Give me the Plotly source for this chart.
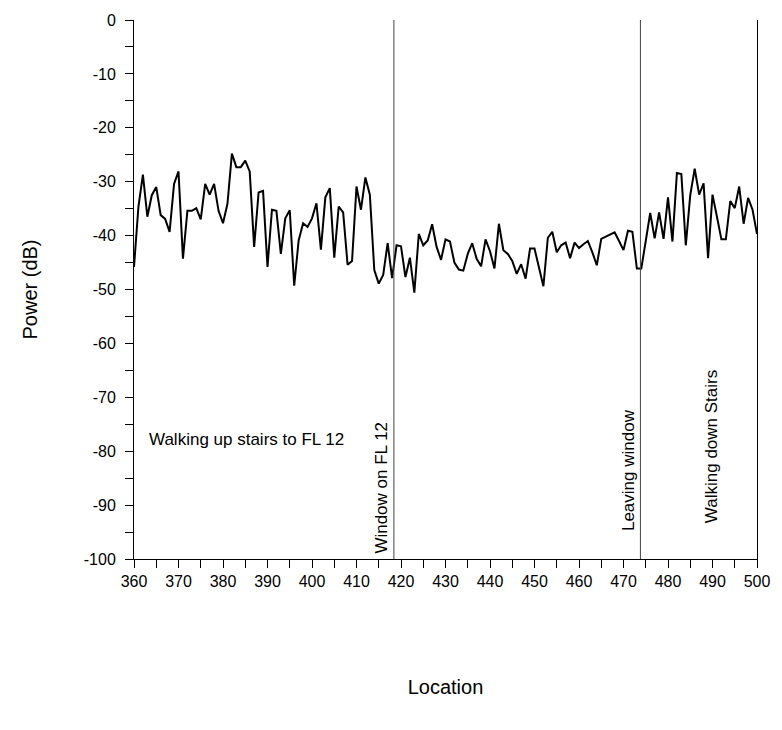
import plotly.graph_objects as go

# Measured received power along the walking route
location = list(range(360, 501))
power_db = [
    -45.8, -34.6, -28.7, -36.5, -32.5, -31.0, -36.2, -36.9, -39.3, -30.4,
    -28.1, -44.3, -35.4, -35.4, -34.9, -37.0, -30.4, -32.4, -30.4, -35.4,
    -37.7, -34.1, -24.8, -27.3, -27.3, -26.1, -28.1, -42.1, -32.0, -31.7,
    -45.8, -35.2, -35.4, -43.4, -36.8, -35.3, -49.3, -40.9, -37.7, -38.4,
    -36.8, -34.0, -42.6, -32.9, -31.2, -44.1, -34.6, -35.7, -45.4, -44.7,
    -30.9, -35.2, -29.2, -32.4, -46.4, -48.9, -47.3, -41.4, -47.9, -41.8,
    -42.0, -47.7, -44.1, -50.6, -39.7, -41.8, -40.9, -37.9, -42.1, -44.5,
    -40.7, -41.1, -45.0, -46.3, -46.5, -43.4, -41.4, -44.3, -45.7, -40.7,
    -42.9, -46.1, -37.8, -42.7, -43.4, -44.7, -47.1, -45.3, -48.0, -42.4,
    -42.4, -45.8, -49.4, -40.4, -39.3, -43.1, -41.8, -41.3, -44.2, -41.3,
    -42.3, -41.6, -41.0, -43.1, -45.5, -40.6, -40.2, -39.8, -39.4, -41.0,
    -42.7, -39.1, -39.3, -46.1, -46.1, -41.0, -35.8, -40.5, -35.7, -40.6,
    -32.9, -41.1, -28.4, -28.6, -41.8, -32.5, -27.6, -32.4, -30.3, -44.2,
    -32.4, -36.5, -40.7, -40.7, -33.6, -34.9, -30.9, -37.8, -33.0, -35.2,
    -39.7,
]

# Event markers along the route
event_x = [418.4, 473.8]
event_labels = ["Window on FL 12", "Leaving window"]
event_label_bottom = [-99.3, -95.2]

x_ticks = list(range(360, 501, 10))
y_ticks = list(range(-100, 1, 10))
y_ticktext = [str(v) for v in y_ticks]  # plain hyphen-minus labels

FONT = "Liberation Sans, Arial, sans-serif"
ANN_SIZE = 17

fig = go.Figure()
fig.add_trace(go.Scatter(
    x=location, y=power_db, mode="lines",
    line=dict(color="black", width=2),
    showlegend=False, hoverinfo="skip",
))

for ex in event_x:
    fig.add_shape(type="line", x0=ex, x1=ex, y0=-100, y1=0,
                  xref="x", yref="y",
                  line=dict(color="#444444", width=1))

for ex, lbl, yb in zip(event_x, event_labels, event_label_bottom):
    fig.add_annotation(x=ex, y=yb, text=lbl, textangle=-90,
                       xanchor="right", yanchor="bottom", xshift=-1,
                       showarrow=False,
                       font=dict(family=FONT, size=ANN_SIZE, color="black"))

fig.add_annotation(x=489.8, y=-93.7, text="Walking down Stairs", textangle=-90,
                   xanchor="center", yanchor="bottom", showarrow=False,
                   font=dict(family=FONT, size=ANN_SIZE, color="black"))

fig.add_annotation(x=363.0, y=-77.9, text="Walking up stairs to FL 12",
                   xanchor="left", yanchor="middle", showarrow=False,
                   font=dict(family=FONT, size=ANN_SIZE, color="black"))

axis_common = dict(
    showgrid=False, zeroline=False,
    showline=True, linecolor="black", linewidth=1,
    ticks="outside", ticklen=8, tickwidth=1, tickcolor="black",
    tickfont=dict(family=FONT, size=16, color="black"),
)

fig.update_xaxes(
    range=[360, 500], tickvals=x_ticks,
    minor=dict(dtick=5, ticks="outside", ticklen=8, tickcolor="black"),
    title=dict(text="Location", font=dict(family=FONT, size=20, color="black"), standoff=90),
    **axis_common,
)
fig.update_yaxes(
    range=[-100, 0], tickvals=y_ticks, ticktext=y_ticktext, mirror=True,
    ticklabelstandoff=6,
    minor=dict(dtick=5, ticks="outside", ticklen=8, tickcolor="black"),
    title=dict(text="Power (dB)", font=dict(family=FONT, size=20, color="black"), standoff=40),
    **axis_common,
)

fig.update_layout(
    width=782, height=730,
    margin=dict(l=134, r=18, t=16, b=171),
    plot_bgcolor="white", paper_bgcolor="white",
    font=dict(family=FONT, color="black"),
)

fig.write_html("out.html")
